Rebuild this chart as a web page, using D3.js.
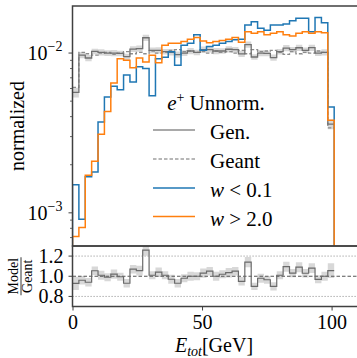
<!DOCTYPE html>
<html>
<head>
<meta charset="utf-8">
<script src="https://cdn.jsdelivr.net/npm/d3@7"></script>
<style>
  body { margin: 0; background: #fff; }
  svg { display: block; font-family: "Liberation Serif", serif; }
</style>
</head>
<body>
<svg id="chart" width="357" height="358"></svg>
<script>
// Binning of the energy histogram (GeV)
var binLo = 0, binHi = 101, nBins = 41;

// Normalized counts per bin
var geant = [0.0061, 0.0101, 0.0099, 0.0097, 0.0100, 0.0101, 0.0098, 0.0100, 0.0102, 0.0099,
             0.0101, 0.0099, 0.0103, 0.0100, 0.0101, 0.0104, 0.0105, 0.0102, 0.0103, 0.0101,
             0.0102, 0.0100, 0.0103, 0.0101, 0.0102, 0.0100, 0.0104, 0.0099, 0.0105, 0.0102,
             0.0103, 0.0104, 0.0101, 0.0098, 0.0102, 0.0099, 0.0101, 0.0100, 0.0103, 0.0101,
             0.0034];
var gen = [0.00567, 0.00970, 0.00931, 0.01023, 0.01010, 0.01000, 0.01000, 0.00995, 0.00949, 0.01059,
           0.01066, 0.01247, 0.01040, 0.01040, 0.01020, 0.01009, 0.00977, 0.01000, 0.01030, 0.01010,
           0.01051, 0.01050, 0.01030, 0.01030, 0.01056, 0.01050, 0.00988, 0.01129, 0.00945, 0.01000,
           0.00994, 0.00936, 0.01020, 0.01073, 0.01051, 0.01079, 0.01040, 0.01080, 0.00999, 0.01010,
           0.00359];
// relative uncertainty of the generated sample
var genErr = [0.07, 0.045, 0.045, 0.04, 0.045, 0.04, 0.045, 0.04, 0.045, 0.04,
              0.045, 0.045, 0.04, 0.045, 0.04, 0.045, 0.045, 0.04, 0.045, 0.04,
              0.045, 0.04, 0.045, 0.04, 0.045, 0.04, 0.045, 0.045, 0.04, 0.045,
              0.04, 0.045, 0.04, 0.045, 0.04, 0.045, 0.04, 0.045, 0.04, 0.045,
              0.07];
var wLow = [0.0015, 0.00091, 0.00168, 0.0018, 0.0037, 0.0053, 0.0062, 0.0059, 0.0073, 0.0066,
            0.0082, 0.0080, 0.0054, 0.0092, 0.0094, 0.0102, 0.0084, 0.0112, 0.0115, 0.0130,
            0.0104, 0.0110, 0.0112, 0.0115, 0.0118, 0.0121, 0.0122, 0.0150, 0.0157, 0.0143,
            0.0139, 0.0150, 0.0150, 0.0152, 0.0159, 0.0165, 0.0165, 0.0136, 0.0167, 0.0155,
            0.0046];
var wHigh = [0.00071, 0.00081, 0.00172, 0.0021, 0.0031, 0.0043, 0.0065, 0.0092, 0.0090, 0.0081,
             0.0093, 0.0088, 0.0097, 0.0087, 0.0112, 0.0115, 0.0115, 0.0118, 0.0122, 0.0125,
             0.0119, 0.0116, 0.0118, 0.0120, 0.0122, 0.0125, 0.0117, 0.0136, 0.0133, 0.0136,
             0.0130, 0.0133, 0.0136, 0.0130, 0.0128, 0.0133, 0.0136, 0.0133, 0.0136, 0.0134,
             0.0038];

var xTicks = [0, 50, 100];
var yMajorTicks = [1e-3, 1e-2];
var yMinorTicks = [7e-4, 8e-4, 9e-4, 2e-3, 3e-3, 4e-3, 5e-3, 6e-3, 7e-3, 8e-3, 9e-3];
var ratioTicks = [0.8, 1.0, 1.2];

var legendTitle = "Unnorm.";
var legendLabels = ["Gen.", "Geant", "w < 0.1", "w > 2.0"];

var svg = d3.select("#chart"),
    left = 72.5, right = 357.5,
    mainTop = 6, mainBottom = 246,
    ratioTop = 246, ratioBottom = 306.5,
    frameColor = "#404040";

var edges = d3.range(nBins + 1).map(function (i) { return binLo + (binHi - binLo) * i / nBins; });

var x = d3.scaleLinear().domain([0, 110]).range([left, right]);
var y = d3.scaleLog().domain([6.2e-4, 1.97e-2]).range([mainBottom, mainTop]);
var yr = d3.scaleLinear().domain([0.7, 1.3]).range([ratioBottom, ratioTop]);

var ratio = gen.map(function (d, i) { return d / geant[i]; });

// clip paths
var defs = svg.append("defs");
defs.append("clipPath").attr("id", "clip-main").append("rect")
    .attr("x", left).attr("y", mainTop).attr("width", right - left).attr("height", mainBottom - mainTop);
defs.append("clipPath").attr("id", "clip-ratio").append("rect")
    .attr("x", left).attr("y", ratioTop).attr("width", right - left).attr("height", ratioBottom - ratioTop);

// histogram outline as list of [x, value]
function steps(vals) {
    var pts = [];
    vals.forEach(function (v, i) {
        pts.push([edges[i], v]);
        pts.push([edges[i + 1], v]);
    });
    return pts;
}

function bandSteps(vals, err) {
    var pts = [];
    vals.forEach(function (v, i) {
        var p = { lo: v * (1 - err[i]), hi: v * (1 + err[i]) };
        pts.push({ x: edges[i], lo: p.lo, hi: p.hi });
        pts.push({ x: edges[i + 1], lo: p.lo, hi: p.hi });
    });
    return pts;
}

var lineMain = d3.line().x(function (d) { return x(d[0]); }).y(function (d) { return y(d[1]); });
var lineRatio = d3.line().x(function (d) { return x(d[0]); }).y(function (d) { return yr(d[1]); });

// ---- main panel
var gMain = svg.append("g").attr("clip-path", "url(#clip-main)");

gMain.append("path")
    .datum(bandSteps(gen, genErr))
    .attr("fill", "#c8c8c8")
    .attr("opacity", 0.7)
    .attr("d", d3.area()
        .x(function (d) { return x(d.x); })
        .y0(function (d) { return y(d.lo); })
        .y1(function (d) { return y(d.hi); }));

gMain.append("path")
    .datum(steps(geant))
    .attr("fill", "none")
    .attr("stroke", "#8c8c8c")
    .attr("stroke-width", 1.3)
    .attr("stroke-dasharray", "3.5,2")
    .attr("d", lineMain);

gMain.append("path")
    .datum(steps(gen))
    .attr("fill", "none")
    .attr("stroke", "#707070")
    .attr("stroke-width", 1.3)
    .attr("d", lineMain);

var floor = y.domain()[0];
[[wLow, "#1f77b4"], [wHigh, "#ff7f0e"]].forEach(function (s) {
    var pts = [[edges[0], floor]].concat(steps(s[0]), [[edges[nBins], floor]]);
    gMain.append("path")
        .datum(pts)
        .attr("fill", "none")
        .attr("stroke", s[1])
        .attr("stroke-width", 1.5)
        .attr("d", lineMain);
});

// main y axis ticks
var axMain = svg.append("g").attr("stroke", frameColor);
yMajorTicks.forEach(function (t) {
    axMain.append("line")
        .attr("x1", left - 4).attr("x2", left)
        .attr("y1", y(t)).attr("y2", y(t))
        .attr("stroke-width", 1);
    var lbl = svg.append("text")
        .attr("x", left - 10)
        .attr("y", y(t) + 7)
        .attr("text-anchor", "end")
        .attr("font-size", 20)
        .attr("fill", "#000");
    lbl.append("tspan").text("10");
    lbl.append("tspan").attr("dy", -9).attr("font-size", 14).text("\u2212" + (-Math.log10(t)).toFixed(0));
});
yMinorTicks.forEach(function (t) {
    axMain.append("line")
        .attr("x1", left - 2.5).attr("x2", left)
        .attr("y1", y(t)).attr("y2", y(t))
        .attr("stroke-width", 0.8);
});

svg.append("text")
    .attr("transform", "translate(24," + ((mainTop + mainBottom) / 2) + ") rotate(-90)")
    .attr("text-anchor", "middle")
    .attr("font-size", 20)
    .text("normalized");

// legend
var lg = svg.append("g");
var title = lg.append("text")
    .attr("x", 216)
    .attr("y", 110)
    .attr("text-anchor", "middle")
    .attr("font-size", 21);
title.append("tspan").attr("font-style", "italic").text("e");
title.append("tspan").attr("dy", -8).attr("font-size", 14).text("+");
title.append("tspan").attr("dy", 8).text(" " + legendTitle);

var legendStyles = [
    { color: "#8c8c8c", dash: null },
    { color: "#a0a0a0", dash: "3.5,2" },
    { color: "#1f77b4", dash: null },
    { color: "#ff7f0e", dash: null }
];
var legendY = [130, 159, 188, 216.5];
legendLabels.forEach(function (name, i) {
    lg.append("line")
        .attr("x1", 153).attr("x2", 195)
        .attr("y1", legendY[i]).attr("y2", legendY[i])
        .attr("stroke", legendStyles[i].color)
        .attr("stroke-width", 1.5)
        .attr("stroke-dasharray", legendStyles[i].dash);
    var t = lg.append("text")
        .attr("x", 210)
        .attr("y", legendY[i] + 9)
        .attr("font-size", 21);
    if (name.charAt(0) === "w") {
        var parts = name.split(" ");
        t.append("tspan").attr("font-style", "italic").text(parts[0]);
        t.append("tspan").text(" " + parts[1] + " " + parts[2]);
    } else {
        t.text(name);
    }
});

// ---- ratio panel
svg.append("g").attr("stroke", "#9a9a9a").attr("stroke-dasharray", "1.2,1.8").attr("stroke-width", 1)
    .selectAll("line").data([0.8, 1.2]).enter().append("line")
    .attr("x1", left).attr("x2", right)
    .attr("y1", function (d) { return yr(d); })
    .attr("y2", function (d) { return yr(d); });

var gRatio = svg.append("g").attr("clip-path", "url(#clip-ratio)");

gRatio.append("path")
    .datum(bandSteps(ratio, genErr))
    .attr("fill", "#c8c8c8")
    .attr("opacity", 0.7)
    .attr("d", d3.area()
        .x(function (d) { return x(d.x); })
        .y0(function (d) { return yr(d.lo); })
        .y1(function (d) { return yr(d.hi); }));

gRatio.append("line")
    .attr("x1", left).attr("x2", right)
    .attr("y1", yr(1)).attr("y2", yr(1))
    .attr("stroke", "#555")
    .attr("stroke-width", 1.2)
    .attr("stroke-dasharray", "3.5,2");

gRatio.append("path")
    .datum(steps(ratio))
    .attr("fill", "none")
    .attr("stroke", "#6a6a6a")
    .attr("stroke-width", 1.2)
    .attr("d", lineRatio);

// ratio y ticks
ratioTicks.forEach(function (t) {
    svg.append("line")
        .attr("x1", left - 4).attr("x2", left)
        .attr("y1", yr(t)).attr("y2", yr(t))
        .attr("stroke", frameColor);
    svg.append("text")
        .attr("x", left - 9)
        .attr("y", yr(t) + 7)
        .attr("text-anchor", "end")
        .attr("font-size", 20)
        .text(t.toFixed(1));
});

// x axis at bottom
var xAxis = svg.append("g")
    .attr("transform", "translate(0," + ratioBottom + ")")
    .call(d3.axisBottom(x).tickValues(xTicks).tickSize(4).tickPadding(4).tickFormat(d3.format("d")));
xAxis.select(".domain").remove();
xAxis.selectAll("line").attr("stroke", frameColor);
xAxis.selectAll("text")
    .attr("font-family", "Liberation Serif, serif")
    .attr("font-size", 20)
    .attr("fill", "#000");

var xl = svg.append("text")
    .attr("x", 214)
    .attr("y", 352)
    .attr("text-anchor", "middle")
    .attr("font-size", 20);
xl.append("tspan").attr("font-style", "italic").text("E");
xl.append("tspan").attr("font-style", "italic").attr("font-size", 14).attr("dy", 4).text("tot");
xl.append("tspan").attr("dy", -4).text("[GeV]");

// ratio y label as fraction
var fr = svg.append("g").attr("transform", "translate(21," + yr(1) + ") rotate(-90)");
fr.append("text").attr("text-anchor", "middle").attr("y", -3).attr("font-size", 14).text("Model");
fr.append("line").attr("x1", -19).attr("x2", 19).attr("y1", 0).attr("y2", 0).attr("stroke", "#000").attr("stroke-width", 0.8);
fr.append("text").attr("text-anchor", "middle").attr("y", 11).attr("font-size", 14).text("Geant");

// frames
var fg = svg.append("g").attr("fill", "none").attr("stroke", frameColor).attr("stroke-width", 1.5);
fg.append("rect").attr("x", left).attr("y", mainTop).attr("width", right - left + 2).attr("height", mainBottom - mainTop);
fg.append("rect").attr("x", left).attr("y", ratioTop).attr("width", right - left + 2).attr("height", ratioBottom - ratioTop);
</script>
</body>
</html>
